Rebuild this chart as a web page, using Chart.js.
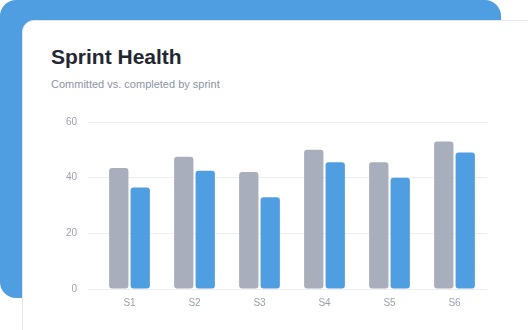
<!DOCTYPE html>
<html>
<head>
<meta charset="utf-8">
<style>
  html, body { margin: 0; padding: 0; background: #ffffff; width: 528px; height: 330px; overflow: hidden; }
  body { position: relative; font-family: "Liberation Sans", Arial, sans-serif; }
  .backdrop { position: absolute; left: 0; top: 0; width: 501px; height: 298px; background: #4f9ee1; border-radius: 16px; }
  .card { position: absolute; left: 22px; top: 20px; width: 540px; height: 340px; background: #ffffff; border: 1px solid #e3e6ee; border-radius: 12px 0 0 0; box-sizing: border-box; }
  .title { position: absolute; left: 51px; top: 46px; font-size: 21px; line-height: 21px; font-weight: bold; color: #222831; }
  .subtitle { position: absolute; left: 51px; top: 79px; font-size: 11px; line-height: 11px; color: #8b93a3; }
  .chart-wrap { position: absolute; left: 57px; top: 105px; width: 430px; height: 216px; }
</style>
</head>
<body>
<div class="backdrop"></div>
<div class="card"></div>
<div class="title">Sprint Health</div>
<div class="subtitle">Committed vs. completed by sprint</div>
<div class="chart-wrap"><canvas id="sprintChart"></canvas></div>

<script src="https://cdn.jsdelivr.net/npm/chart.js"></script>
<script>
  // sprint data
  const sprints = ["S1", "S2", "S3", "S4", "S5", "S6"];
  const committed = [43.5, 47.5, 42, 50, 45.5, 53];
  const completed = [36.5, 42.5, 33, 45.5, 40, 49];
  const yTicks = [0, 20, 40, 60];

  new Chart(document.getElementById("sprintChart"), {
    type: "bar",
    data: {
      labels: sprints,
      datasets: [
        {
          label: "Committed",
          data: committed,
          backgroundColor: "#a8aebb",
          borderRadius: 3,
          borderSkipped: false,
          categoryPercentage: 0.66,
          barPercentage: 0.9
        },
        {
          label: "Completed",
          data: completed,
          backgroundColor: "#4f9ee1",
          borderRadius: 3,
          borderSkipped: false,
          categoryPercentage: 0.66,
          barPercentage: 0.9
        }
      ]
    },
    options: {
      responsive: true,
      maintainAspectRatio: false,
      animation: false,
      layout: { padding: { top: 10, bottom: 4, left: 0, right: 0 } },
      plugins: {
        legend: { display: false },
        tooltip: { enabled: false }
      },
      scales: {
        x: {
          grid: { display: false, drawTicks: false },
          border: { display: false },
          ticks: { color: "#9aa1ae", font: { size: 10 }, padding: 8 }
        },
        y: {
          min: 0,
          max: 60,
          afterBuildTicks: (scale) => { scale.ticks = yTicks.map(v => ({ value: v })); },
          afterFit: (scale) => { scale.width = 40; },
          grid: { color: "#eceef2", tickLength: 9 },
          border: { display: false },
          ticks: { color: "#9aa1ae", font: { size: 10 }, padding: 11 }
        }
      }
    }
  });
</script>
</body>
</html>
